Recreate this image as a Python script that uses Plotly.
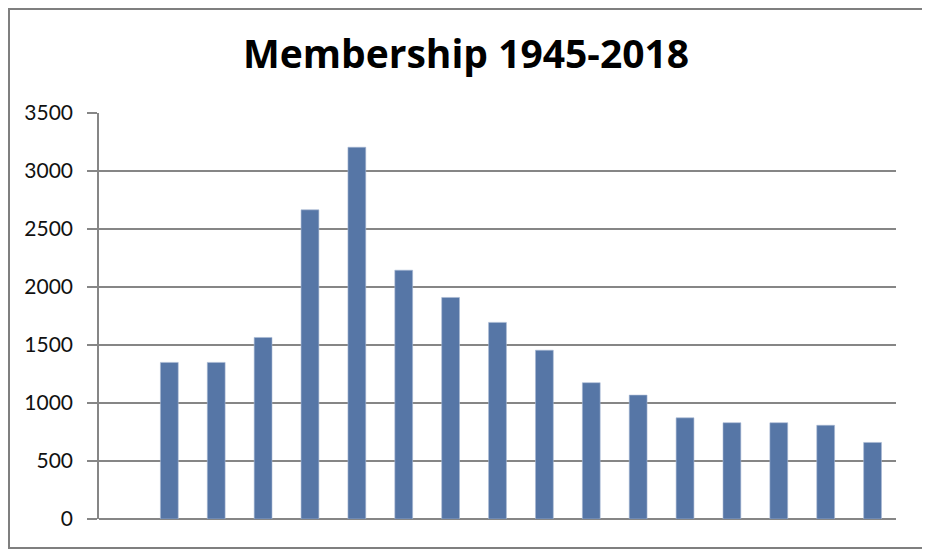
import plotly.graph_objects as go

# Datos (17 categorias, la primera vacia)
categorias = list(range(17))
miembros = [None, 1350, 1350, 1565, 2665, 3205, 2145, 1910, 1695, 1455, 1175, 1068, 872, 830, 830, 808, 660]
ticks_y = [0, 500, 1000, 1500, 2000, 2500, 3000, 3500]

# La pagina tiene 8px de margen en el body, asi que la figura ocupa el recuadro del marco
ancho, alto = 916, 541
m_izq, m_der, m_sup, m_inf = 91, 28, 105, 30
ancho_plot = ancho - m_izq - m_der
alto_plot = alto - m_sup - m_inf

fig = go.Figure()
fig.add_trace(go.Bar(
    x=categorias,
    y=miembros,
    marker=dict(color="#5676a6", line=dict(color="#a8b9d4", width=0.6)),
    width=0.38,
    hoverinfo="y",
))

# Marco exterior del grafico (en coordenadas paper)
fig.add_shape(
    type="rect", xref="paper", yref="paper",
    x0=(1 - m_izq) / ancho_plot, x1=(ancho - 1 - m_izq) / ancho_plot,
    y0=(1 - m_inf) / alto_plot, y1=(alto - 1 - m_inf) / alto_plot,
    line=dict(color="#7f7f7f", width=2),
    layer="below",
)

fig.update_layout(
    width=ancho, height=alto,
    margin=dict(l=m_izq, r=m_der, t=m_sup, b=m_inf),
    paper_bgcolor="white",
    plot_bgcolor="white",
    font=dict(family="Lato, 'Open Sans', sans-serif", color="#111111"),
    title=dict(
        text="<b>Membership 1945-2018</b>",
        x=0.5, xanchor="center",
        y=1 - 46 / alto, yanchor="middle",
        font=dict(family="'Open Sans', Lato, sans-serif", size=39, color="#000000"),
    ),
    showlegend=False,
    xaxis=dict(
        range=[-0.5, 16.5],
        showticklabels=False,
        showgrid=False,
        zeroline=False,
        showline=False,
        ticks="",
    ),
    yaxis=dict(
        range=[0, 3500],
        tickvals=ticks_y,
        showgrid=True,
        gridcolor="#868686",
        gridwidth=1.5,
        zeroline=True,
        zerolinecolor="#868686",
        zerolinewidth=1.5,
        showline=True,
        linecolor="#868686",
        linewidth=1.5,
        ticks="outside",
        ticklen=10,
        tickcolor="#868686",
        tickwidth=1.5,
        ticklabelstandoff=10,
        tickfont=dict(size=21, color="#111111"),
    ),
)

fig.write_html("out.html")
